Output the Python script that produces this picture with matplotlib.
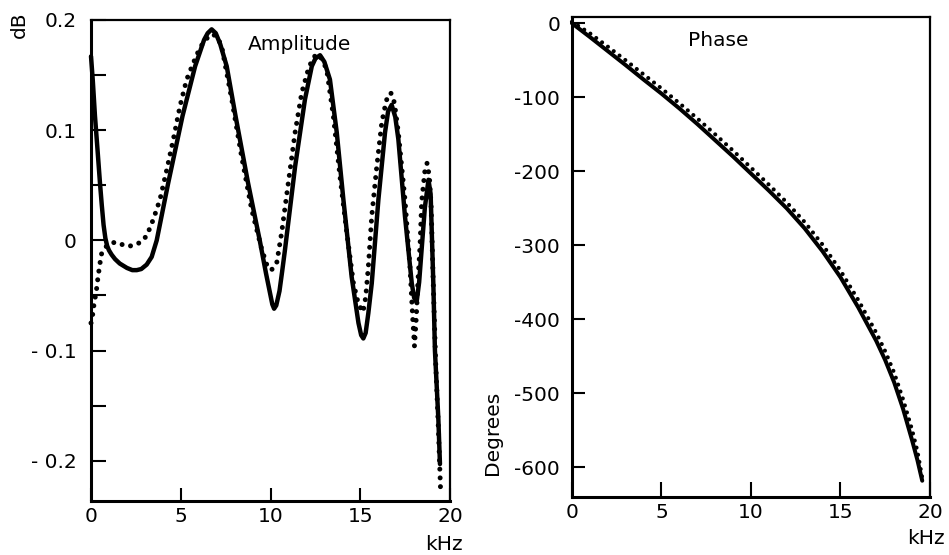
import numpy as np
import matplotlib
matplotlib.use("Agg")
import matplotlib.pyplot as plt

plt.rcParams['font.family'] = ['DejaVu Sans']

# amplitude response, solid curve (kHz, dB)
amp_f = [0.0, 0.1, 0.22, 0.35, 0.5, 0.6, 0.7, 0.8, 0.9, 1.0, 1.15, 1.34, 1.6, 2.0, 2.3,
         2.55, 2.8, 3.1, 3.38, 3.66, 4.3, 5.1, 5.8, 6.3, 6.5, 6.72, 6.95, 7.2, 7.56, 8.05,
         8.75, 9.4, 9.75, 9.95, 10.1, 10.2, 10.32, 10.5, 10.65, 10.81, 11.37, 11.92, 12.3,
         12.5, 12.76, 13.0, 13.31, 13.69, 14.06, 14.52, 14.9, 15.05, 15.17, 15.3, 15.45,
         15.64, 16.01, 16.38, 16.55, 16.75, 16.95, 17.12, 17.49, 17.87, 18.0, 18.14,
         18.28, 18.42, 18.6, 18.8, 18.92, 19.07, 19.16, 19.35, 19.44]
amp_db = [0.167, 0.145, 0.113, 0.085, 0.052, 0.032, 0.014, 0.002, -0.005, -0.009, -0.013,
          -0.017, -0.021, -0.025, -0.027, -0.027, -0.026, -0.022, -0.015, 0.0, 0.052,
          0.113, 0.158, 0.182, 0.188, 0.1915, 0.188, 0.178, 0.158, 0.113, 0.052, 0.0,
          -0.03, -0.046, -0.058, -0.062, -0.059, -0.046, -0.028, -0.008, 0.067, 0.128,
          0.158, 0.165, 0.168, 0.162, 0.146, 0.098, 0.037, -0.033, -0.075, -0.086, -0.089,
          -0.084, -0.066, -0.039, 0.037, 0.098, 0.117, 0.123, 0.112, 0.092, 0.022, -0.039,
          -0.052, -0.056, -0.038, -0.008, 0.03, 0.055, 0.042, -0.039, -0.10, -0.162,
          -0.203]

# amplitude response, dotted curve (kHz, dB)
amp_dot_f = [0.0, 0.07, 0.15, 0.32, 0.4, 0.5, 0.56, 0.87, 1.2, 1.52, 1.88, 2.27, 2.73,
             3.1, 3.47, 3.84, 4.22, 4.59, 4.96, 5.33, 5.7, 6.07, 6.54, 6.8, 7.05, 7.28,
             7.84, 8.39, 8.95, 9.51, 9.79, 10.05, 10.35, 10.62, 10.99, 11.37, 11.74,
             12.1, 12.35, 12.57, 12.85, 13.13, 13.5, 13.87, 14.25, 14.62, 14.9, 15.15,
             15.3, 15.45, 15.64, 15.92, 16.2, 16.45, 16.7, 16.9, 17.12, 17.49, 17.77,
             17.92, 18.02, 18.12, 18.22, 18.33, 18.42, 18.6, 18.72, 18.85, 18.95, 19.05,
             19.2, 19.35, 19.47]
amp_dot_db = [-0.075, -0.07, -0.06, -0.043, -0.032, -0.021, -0.013, -0.005, -0.002, -0.002,
              -0.005, -0.005, -0.002, 0.004, 0.019, 0.037, 0.064, 0.092, 0.122, 0.146,
              0.161, 0.175, 0.185, 0.187, 0.184, 0.176, 0.128, 0.076, 0.028, -0.008,
              -0.022, -0.027, -0.02, 0.007, 0.052, 0.098, 0.134, 0.155, 0.165, 0.169,
              0.165, 0.155, 0.113, 0.058, 0.007, -0.039, -0.058, -0.065, -0.052, -0.024,
              0.022, 0.067, 0.107, 0.127, 0.134, 0.125, 0.098, 0.037, -0.024, -0.07,
              -0.096, -0.07, -0.035, -0.005, 0.035, 0.063, 0.07, 0.058, 0.03, -0.03,
              -0.11, -0.17, -0.225]

# phase response (kHz, degrees)
ph_f = [0, 1, 2, 3, 4, 5, 6, 7, 8, 9, 10, 11, 12, 13, 14, 15, 16, 17, 17.5, 18, 18.5,
        19, 19.3, 19.57]
ph_deg = [0, -18.5, -37.5, -56.5, -76, -95, -115, -136, -158, -180, -203, -226, -250,
          -277, -308, -343, -384, -429, -455, -485, -521, -563, -590, -618]
ph_dot_deg = [2, -13.5, -31.5, -50, -69, -88, -108, -128.5, -150, -172, -195, -218, -242,
              -268.5, -299, -334, -374, -418, -443, -472, -508, -549, -578, -614]

amp_ticks = [-0.2, -0.1, 0, 0.1, 0.2]
amp_ticklabels = ['- 0.2', '- 0.1', '0', '0.1', '0.2']
ph_ticks = [0, -100, -200, -300, -400, -500, -600]
ph_ticklabels = ['0', '-100', '-200', '-300', '-400', '-500', '-600']
f_ticks = [0, 5, 10, 15, 20]

FS = 14.5
dots = (0, (0.001, 1.75))

fig = plt.figure(figsize=(9.49, 5.55), dpi=100)
ax1 = fig.add_axes([0.0959, 0.0973, 0.3783, 0.8667])
ax2 = fig.add_axes([0.6027, 0.1045, 0.3772, 0.8649])

# amplitude panel
ax1.plot(amp_f, amp_db, color='black', lw=3.2, solid_capstyle='round',
         solid_joinstyle='round', clip_on=False)
ax1.plot(amp_dot_f, amp_dot_db, color='black', lw=3.6, linestyle=dots,
         dash_capstyle='round', clip_on=False)
ax1.set_xlim(0, 20)
ax1.set_ylim(-0.2365, 0.2)
ax1.set_yticks(amp_ticks)
ax1.set_yticklabels(amp_ticklabels)
ax1.set_yticks([-0.15, -0.05, 0.05, 0.15], minor=True)
ax1.set_xticks(f_ticks)
ax1.tick_params(axis='y', which='both', direction='in', length=11, width=1.5,
                pad=10.5, labelsize=FS)
ax1.tick_params(axis='x', direction='in', length=9.5, width=1.5, pad=4.5, labelsize=FS)
ax1.text(0.582, 0.95, 'Amplitude', transform=ax1.transAxes, ha='center', va='center',
         fontsize=FS)

# phase panel
ax2.plot(ph_f, ph_deg, color='black', lw=2.9, solid_capstyle='round',
         solid_joinstyle='round', clip_on=False)
ax2.plot(ph_f, ph_dot_deg, color='black', lw=3.0, linestyle=dots,
         dash_capstyle='round', clip_on=False)
ax2.set_xlim(0, 20)
ax2.set_ylim(-640, 8.5)
ax2.set_yticks(ph_ticks)
ax2.set_yticklabels(ph_ticklabels)
ax2.set_xticks(f_ticks)
ax2.tick_params(axis='y', direction='in', length=9.5, width=1.5, pad=8.5, labelsize=FS)
ax2.tick_params(axis='x', direction='in', length=10.5, width=1.5, pad=4.5, labelsize=FS)
ax2.text(0.408, 0.952, 'Phase', transform=ax2.transAxes, ha='center', va='center',
         fontsize=FS)

for ax in (ax1, ax2):
    for side in ('left', 'bottom'):
        ax.spines[side].set_linewidth(2.2)
    for side in ('top', 'right'):
        ax.spines[side].set_linewidth(1.6)

fig.text(19 / 949, 1 - 25 / 555, 'dB', rotation=90, ha='center', va='center', fontsize=FS)
fig.text(444 / 949, 1 - 544 / 555, 'kHz', ha='center', va='center', fontsize=FS)
fig.text(926 / 949, 1 - 539 / 555, 'kHz', ha='center', va='center', fontsize=FS)
fig.text(492 / 949, 1 - 433 / 555, 'Degrees', rotation=90, ha='center', va='center',
         fontsize=FS)

fig.savefig('out.png', dpi=100)
